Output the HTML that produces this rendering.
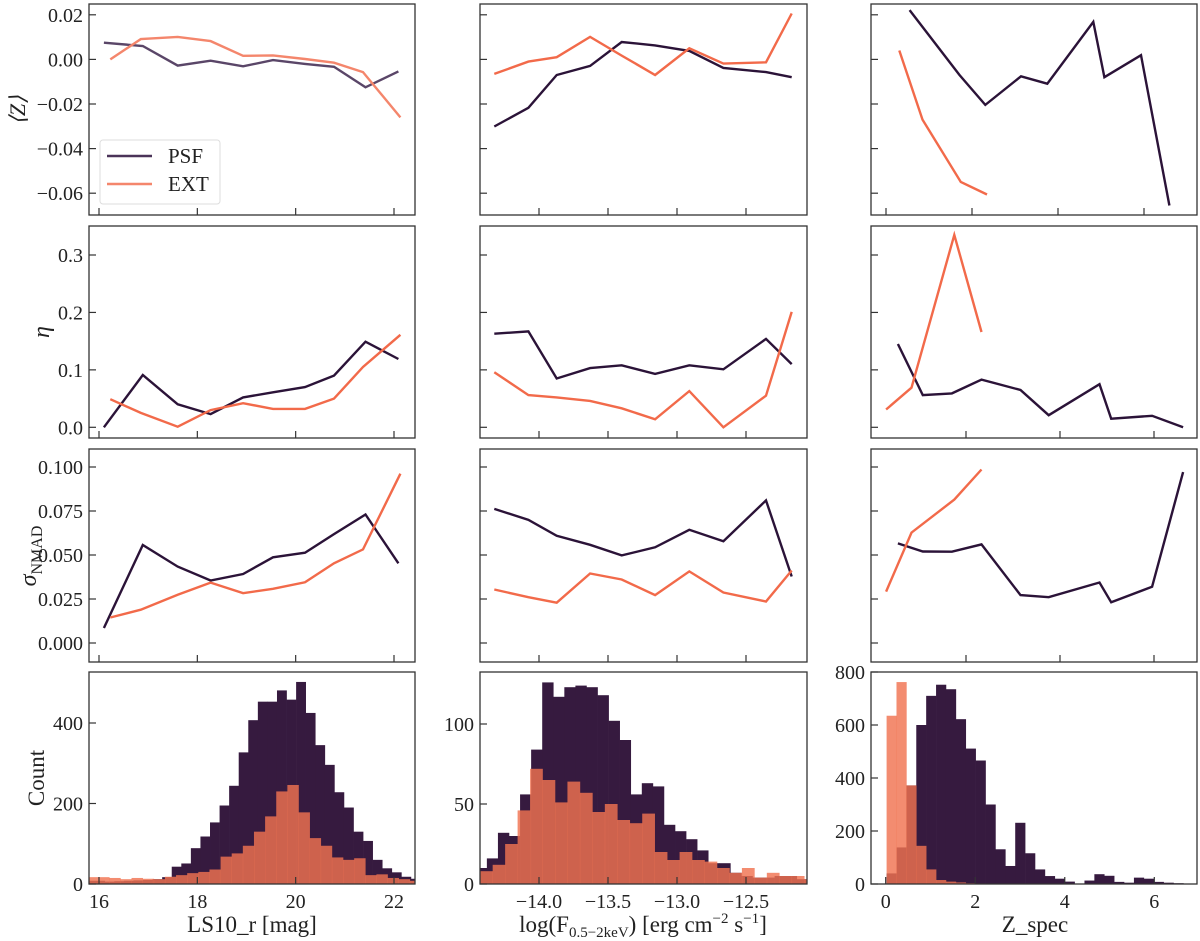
<!DOCTYPE html>
<html><head><meta charset="utf-8"><style>
html,body{margin:0;padding:0;background:#fff;}
svg{display:block;}
text{font-family:"Liberation Serif",serif;fill:#222;}
</style></head><body>
<svg id="fig" width="1200" height="941" viewBox="0 0 1200 941" xmlns="http://www.w3.org/2000/svg"></svg>
<script>
// ---------- data: line panels ----------
const magPsfX = [16.10,16.89,17.60,18.27,18.93,19.54,20.19,20.78,21.42,22.09];
const magExtX = [16.23,16.85,17.60,18.27,18.93,19.54,20.19,20.78,21.37,22.13];
const magPsfZ = [0.0075,0.006,-0.0028,-0.0006,-0.0031,-0.0003,-0.0020,-0.0033,-0.0125,-0.0054];
const magExtZ = [0.0,0.0091,0.0101,0.0082,0.0016,0.0018,0.0002,-0.0015,-0.0057,-0.026];
const magPsfEta = [0.0,0.091,0.040,0.023,0.052,0.061,0.070,0.090,0.149,0.119];
const magExtEta = [0.049,0.025,0.001,0.030,0.042,0.032,0.032,0.050,0.105,0.161];
const magPsfSig = [0.0085,0.0557,0.0434,0.0355,0.0392,0.0487,0.0513,0.0619,0.073,0.0453];
const magExtSig = [0.0145,0.0189,0.0274,0.0343,0.0283,0.0308,0.0345,0.0453,0.0532,0.0962];

const fluxX = [-14.324,-14.077,-13.872,-13.630,-13.401,-13.159,-12.911,-12.664,-12.355,-12.169];
const fluxPsfZ = [-0.0301,-0.0217,-0.0070,-0.0029,0.0078,0.0063,0.0038,-0.0038,-0.0057,-0.0080];
const fluxExtZ = [-0.0065,-0.001,0.001,0.0101,0.0017,-0.007,0.005,-0.0019,-0.0013,0.0206];
const fluxPsfEta = [0.163,0.167,0.085,0.103,0.108,0.093,0.108,0.101,0.154,0.110];
const fluxExtEta = [0.096,0.056,0.052,0.046,0.033,0.014,0.063,0.0,0.055,0.201];
const fluxPsfSig = [0.0762,0.070,0.0609,0.0558,0.0498,0.0544,0.0643,0.0578,0.081,0.0378];
const fluxExtSig = [0.0304,0.026,0.0229,0.0395,0.0361,0.0272,0.0407,0.0287,0.0236,0.0412];

const zPsfX1 = [0.55,1.71,2.31,3.14,3.75,4.82,5.08,5.93,6.59];
const zPsfZ = [0.0221,-0.007,-0.0204,-0.0076,-0.0109,0.0168,-0.0080,0.0019,-0.0655];
const zExtX1 = [0.31,0.85,1.74,2.35];
const zExtZ = [0.004,-0.027,-0.055,-0.0606];
const zPsfX = [0.55,1.08,1.70,2.33,3.16,3.76,4.84,5.09,5.96,6.62];
const zPsfEta = [0.145,0.056,0.059,0.083,0.065,0.021,0.075,0.015,0.020,0.0];
const zPsfSig = [0.0566,0.052,0.0519,0.056,0.0272,0.026,0.0344,0.0231,0.032,0.0971];
const zExtX = [0.30,0.84,1.75,2.33];
const zExtEta = [0.031,0.069,0.335,0.166];
const zExtSig = [0.0292,0.0627,0.0815,0.0986];

// ---------- data: histograms ----------
const magPsfStart = 15.728, magPsfW = 0.1946;
const magPsfCounts = [8,8,6,7,8,9,10,12,17,43,51,89,118,153,195,244,327,407,453,453,481,458,502,425,345,296,228,190,130,107,60,39,29,18,13];
const magExtStart = 15.756, magExtW = 0.2264;
const magExtCounts = [17,17,15,12,15,13,12,18,22,27,30,36,68,76,95,130,168,230,246,178,114,95,66,60,64,22,24,15,12,8];

const fluxPsfStart = -14.458, fluxPsfW = 0.0802;
const fluxPsfCounts = [10,16,32,30,56,84,126,117,123,124,123,118,102,90,56,63,61,37,33,28,21,13,13,7,5,4,4,5,5,3];
const fluxExtStart = -14.426, fluxExtW = 0.0903;
const fluxExtCounts = [8,12,25,46,72,65,51,64,57,45,50,40,38,44,20,15,20,15,14,10,7,10,4,7,5,5,3];

const zHistStart = 0.02, zHistW = 0.221;
const zPsfCounts = [40,138,372,600,710,752,735,622,511,466,300,131,68,231,116,55,30,20,9,0,13,37,31,8,5,24,20,8,5,3];
const zExtCounts = [635,762,372,144,55,15,9,6,3,2,1,1];

// ---------- tick labels ----------
const zTicks = [0.02,0.00,-0.02,-0.04,-0.06];
const zTickLabels = ["0.02","0.00","\u22120.02","\u22120.04","\u22120.06"];
const etaTicks = [0.0,0.1,0.2,0.3];
const etaTickLabels = ["0.0","0.1","0.2","0.3"];
const sigTicks = [0.0,0.025,0.05,0.075,0.1];
const sigTickLabels = ["0.000","0.025","0.050","0.075","0.100"];
const magTicks = [16,18,20,22];
const magTickLabels = ["16","18","20","22"];
const fluxTicks = [-14,-13.5,-13,-12.5];
const fluxTickLabels = ["\u221214.0","\u221213.5","\u221213.0","\u221212.5"];
const zsTicks = [0,2,4,6];
const zsTickLabels = ["0","2","4","6"];
const cnt1Ticks = [0,200,400]; const cnt1Labels = ["0","200","400"];
const cnt2Ticks = [0,50,100]; const cnt2Labels = ["0","50","100"];
const cnt3Ticks = [0,200,400,600,800]; const cnt3Labels = ["0","200","400","600","800"];

// ---------- layout ----------
const NS = "http://www.w3.org/2000/svg";
const svg = document.getElementById('fig');
const COLS = [[89,415],[480,807],[871,1197]];
const ROWS = [[4,215],[226,438],[449,662],[672,884]];
function lin(v0,p0,v1,p1){ return v => p0 + (v - v0) * (p1 - p0) / (v1 - v0); }
function mk(tag, attrs, parent){ const e = document.createElementNS(NS, tag); for (const k in attrs) e.setAttribute(k, attrs[k]); (parent||svg).appendChild(e); return e; }

const yZ = lin(0.02,14.8,-0.06,193.2);
const yEta = lin(0.3,255,0,427.3);
const ySig = lin(0.1,467,0,643);
const yC1 = lin(0,884,400,723);
const yC2 = lin(0,884,100,724);
const yC3 = lin(0,884,800,672);
const xMag = lin(16,99,22,394);
const xFlux = lin(-14,539,-12.5,746);
const xZ1 = lin(0,886,6,1144);
const xZ = lin(2,966,6,1154);
const xZH = lin(0,885.7,6,1154.3);

let clipN = 0;
function panel(c, r, name){
  const [x0,x1] = COLS[c], [y0,y1] = ROWS[r];
  const g = mk('g', {});
  
  
  const id = 'clip' + (clipN++);
  const cp = mk('clipPath', {id: id}, g);
  mk('rect', {x:x0, y:y0, width:x1-x0, height:y1-y0}, cp);
  const inner = mk('g', {'clip-path': 'url(#' + id + ')'}, g);
  return {g, inner, x0, x1, y0, y1};
}
function frame(p){
  const f = mk('rect', {x:p.x0, y:p.y0, width:p.x1-p.x0, height:p.y1-p.y0, fill:'none', stroke:'#333', 'stroke-width':1.3}, p.g);
  
  
}
function yticks(p, ticks, labels, ys, showLabels){
  ticks.forEach((t,i) => {
    const y = ys(t);
    mk('line', {x1:p.x0, x2:p.x0+7, y1:y, y2:y, stroke:'#333', 'stroke-width':1.2}, p.g);
    if (showLabels){
      const tx = mk('text', {x:p.x0-6, y:y+7, 'text-anchor':'end', 'font-size':20}, p.g);
      tx.textContent = labels[i];
      
      
    }
  });
}
function xticks(p, ticks, labels, xs, showLabels){
  ticks.forEach((t,i) => {
    const x = xs(t);
    if (x < p.x0+2 || x > p.x1-2) return;
    mk('line', {x1:x, x2:x, y1:p.y1, y2:p.y1-7, stroke:'#333', 'stroke-width':1.2}, p.g);
    if (showLabels){
      const tx = mk('text', {x:x, y:p.y1+24, 'text-anchor':'middle', 'font-size':20}, p.g);
      tx.textContent = labels[i];
      
      
    }
  });
}
function line(p, xs, ys, X, Y, color, name){
  const d = X.map((v,i) => (i ? 'L' : 'M') + xs(v).toFixed(1) + ',' + ys(Y[i]).toFixed(1)).join('');
  const e = mk('path', {d:d, fill:'none', stroke:color, 'stroke-width':2.4, 'stroke-linejoin':'miter'}, p.inner);
  
  
}
function hist(p, xs, ys, start, w, counts, fill, opacity, name){
  const g = mk('g', {fill:fill, 'fill-opacity':opacity}, p.inner);
  
  
  counts.forEach((c,i) => {
    const a = xs(start + i*w), b = xs(start + (i+1)*w);
    const yT = ys(c), yB = ys(0);
    const r = mk('rect', {x:a, y:yT, width:Math.max(0,b-a+0.3), height:Math.max(0,yB-yT)}, g);
    
    
  });
}

const PSF = '#2b1338', EXT = '#f26a4a';
const PSF1 = '#5a4668', EXT1 = '#f4866c';
const HP = '#361a3f', HE = 'rgb(240,115,81)';

const rowY = [[zTicks,zTickLabels,yZ],[etaTicks,etaTickLabels,yEta],[sigTicks,sigTickLabels,ySig]];
const colX = [[magTicks,magTickLabels,xMag],[fluxTicks,fluxTickLabels,xFlux]];
const lineData = [
  [[magPsfX,magPsfZ,magExtX,magExtZ],[fluxX,fluxPsfZ,fluxX,fluxExtZ],[zPsfX1,zPsfZ,zExtX1,zExtZ]],
  [[magPsfX,magPsfEta,magExtX,magExtEta],[fluxX,fluxPsfEta,fluxX,fluxExtEta],[zPsfX,zPsfEta,zExtX,zExtEta]],
  [[magPsfX,magPsfSig,magExtX,magExtSig],[fluxX,fluxPsfSig,fluxX,fluxExtSig],[zPsfX,zPsfSig,zExtX,zExtSig]]
];
const metricNames = ['mean-z','eta','sigma-nmad'];
const colNames = ['mag','flux','zspec'];
for (let r = 0; r < 3; r++){
  for (let c = 0; c < 3; c++){
    const p = panel(c, r, metricNames[r] + '-vs-' + colNames[c] + '-panel');
    const ys = rowY[r][2];
    const xs = c < 2 ? colX[c][2] : (r === 0 ? xZ1 : xZ);
    const [px,py,ex,ey] = lineData[r][c];
    const faded = (r === 0 && c === 0);
    line(p, xs, ys, px, py, faded ? PSF1 : PSF, 'psf-line');
    line(p, xs, ys, ex, ey, faded ? EXT1 : EXT, 'ext-line');
    frame(p);
    yticks(p, rowY[r][0], rowY[r][1], ys, c === 0);
    xticks(p, c < 2 ? colX[c][0] : zsTicks, [], xs, false);
  }
}
// histograms
{
  const p = panel(0, 3, 'mag-histogram-panel');
  hist(p, xMag, yC1, magPsfStart, magPsfW, magPsfCounts, HP, 1, 'psf-hist');
  hist(p, xMag, yC1, magExtStart, magExtW, magExtCounts, HE, 0.82, 'ext-hist');
  frame(p); yticks(p, cnt1Ticks, cnt1Labels, yC1, true); xticks(p, magTicks, magTickLabels, xMag, true);
}
{
  const p = panel(1, 3, 'flux-histogram-panel');
  hist(p, xFlux, yC2, fluxPsfStart, fluxPsfW, fluxPsfCounts, HP, 1, 'psf-hist');
  hist(p, xFlux, yC2, fluxExtStart, fluxExtW, fluxExtCounts, HE, 0.82, 'ext-hist');
  frame(p); yticks(p, cnt2Ticks, cnt2Labels, yC2, true); xticks(p, fluxTicks, fluxTickLabels, xFlux, true);
}
{
  const p = panel(2, 3, 'zspec-histogram-panel');
  hist(p, xZH, yC3, zHistStart, zHistW, zPsfCounts, HP, 1, 'psf-hist');
  hist(p, xZH, yC3, zHistStart, zHistW, zExtCounts, HE, 0.82, 'ext-hist');
  frame(p); yticks(p, cnt3Ticks, cnt3Labels, yC3, true); xticks(p, zsTicks, zsTickLabels, xZH, true);
}
</script>
<script>
// static labels and legend
(function(){
  const svg = document.getElementById('fig');
  const NS = "http://www.w3.org/2000/svg";
  const frag = `
  <g>
    <rect x="100" y="140" width="120" height="64" rx="3" fill="#fff" fill-opacity="0.9" stroke="#ddd" stroke-width="1"/>
    <line x1="107" y1="156" x2="152" y2="156" stroke="#4a3358" stroke-width="2.4"/>
    <text x="168" y="163" font-size="21">PSF</text>
    <line x1="107" y1="184" x2="152" y2="184" stroke="#f4866c" stroke-width="2.4"/>
    <text x="168" y="191" font-size="21">EXT</text>
  </g>
  <text transform="translate(25,110) rotate(-90)" text-anchor="middle" font-size="22" font-style="italic">⟨Z⟩</text>
  <text transform="translate(49,332) rotate(-90)" text-anchor="middle" font-size="24" font-style="italic">η</text>
  <text transform="translate(36,556) rotate(-90)" text-anchor="middle" font-size="24"><tspan font-style="italic">σ</tspan><tspan font-size="16" dy="6">NMAD</tspan></text>
  <text transform="translate(44,778) rotate(-90)" text-anchor="middle" font-size="23">Count</text>
  <text x="252" y="932" text-anchor="middle" font-size="23">LS10_r [mag]</text>
  <text x="643" y="932" text-anchor="middle" font-size="23">log(F<tspan font-size="15" dy="5">0.5−2keV</tspan><tspan dy="-5">) [erg cm</tspan><tspan font-size="15" dy="-9">−2</tspan><tspan dy="9"> s</tspan><tspan font-size="15" dy="-9">−1</tspan><tspan dy="9">]</tspan></text>
  <text x="1035" y="932" text-anchor="middle" font-size="23">Z_spec</text>`;
  const g = document.createElementNS(NS, 'g');
  
  
  g.innerHTML = frag;
  svg.appendChild(g);
})();
</script>
</body></html>
